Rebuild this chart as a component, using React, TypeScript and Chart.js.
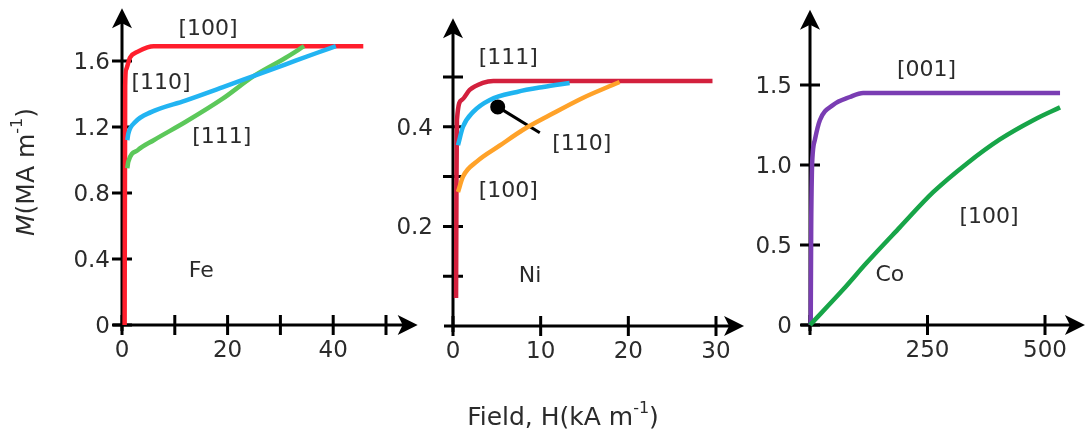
import React, { useEffect, useRef } from "react";
import { Chart, registerables } from "chart.js";

Chart.register(...registerables);

// ---------------- Fe panel data ----------------
const feH100 = [0.5, 0.6, 0.8, 1.5, 2.9, 4.8, 6.0, 45.7];
const feM100 = [0, 1.45, 1.55, 1.62, 1.655, 1.683, 1.69, 1.69];
const feH110 = [1.0, 1.2, 2.5, 5.5, 12, 19, 25, 31, 37, 40.5];
const feM110 = [1.12, 1.16, 1.23, 1.29, 1.36, 1.44, 1.51, 1.58, 1.65, 1.69];
const feH111 = [1.0, 1.2, 3, 6, 12, 19, 25, 31, 34.5];
const feM111 = [0.95, 0.99, 1.06, 1.12, 1.23, 1.37, 1.51, 1.62, 1.69];
const feXTicks = [0, 10, 20, 30, 40, 50];
const feXTickLabels = ["0", "", "20", "", "40", ""];
const feYTicks = [0, 0.4, 0.8, 1.2, 1.6];
const feYTickLabels = ["0", "0.4", "0.8", "1.2", "1.6"];

// ---------------- Ni panel data ----------------
const niH111 = [0.35, 0.4, 0.45, 1.0, 1.9, 3.4, 4.6, 29.6];
const niM111 = [0.056, 0.3, 0.414, 0.454, 0.474, 0.488, 0.492, 0.492];
const niH110 = [0.57, 1.14, 2.3, 4.2, 7.3, 10.3, 13.3];
const niM110 = [0.363, 0.4, 0.43, 0.454, 0.47, 0.48, 0.488];
const niH100 = [0.57, 1.14, 2.7, 5.4, 8.0, 11.1, 14.8, 18.2, 19.0];
const niM100 = [0.269, 0.3, 0.33, 0.363, 0.394, 0.424, 0.458, 0.484, 0.49];
const niPointerH = [5.1, 9.9];
const niPointerM = [0.44, 0.388];
const niXTicks = [0, 10, 20, 30];
const niXTickLabels = ["0", "10", "20", "30"];
const niYTicks = [0.1, 0.2, 0.3, 0.4, 0.5];
const niYTickLabels = ["", "0.2", "", "0.4", ""];

// ---------------- Co panel data ----------------
const coH001 = [1.5, 2.5, 4, 6, 10.6, 21, 49, 85, 113, 532];
const coM001 = [0, 0.6, 0.95, 1.08, 1.16, 1.28, 1.375, 1.425, 1.45, 1.45];
const coH100 = [0, 70, 121, 191, 262, 334, 404, 475, 532];
const coM100 = [0, 0.22, 0.39, 0.61, 0.83, 1.01, 1.16, 1.28, 1.36];
const coXTicks = [0, 250, 500];
const coXTickLabels = ["", "250", "500"];
const coYTicks = [0, 0.5, 1.0, 1.5];
const coYTickLabels = ["0", "0.5", "1.0", "1.5"];

// annotation texts
const feNotes = ["[100]", "[110]", "[111]", "Fe"];
const feNoteH = [16.3, 7.4, 18.9, 15.0];
const feNoteM = [1.79, 1.467, 1.139, 0.327];
const niNotes = ["[111]", "[110]", "[100]", "Ni"];
const niNoteH = [6.3, 14.7, 6.3, 8.8];
const niNoteM = [0.538, 0.365, 0.27, 0.1];
const coNotes = ["[001]", "[100]", "Co"];
const coNoteH = [248, 381, 170];
const coNoteM = [1.594, 0.675, 0.3125];

const FONT = '"DejaVu Sans", "Noto Sans", sans-serif';
const W = 1086;
const H = 435;

const pts = (xs: number[], ys: number[]) => xs.map((x, i) => ({ x, y: ys[i] }));

type Spec = {
  name: string;
  xMin: number; xMax: number; yMin: number; yMax: number;
  pad: { left: number; right: number; top: number; bottom: number };
  xTicks: number[]; xTickLabels: string[];
  yTicks: number[]; yTickLabels: string[];
  xArrow: number; yArrow: number;
  yLabelGap: number;
  notes: string[]; noteH: number[]; noteM: number[];
  datasets: any[];
  extra?: (chart: any) => void;
};

function arrowUp(ctx: CanvasRenderingContext2D, x: number, y: number) {
  ctx.beginPath();
  ctx.moveTo(x, y);
  ctx.lineTo(x - 10, y + 20);
  ctx.lineTo(x, y + 15);
  ctx.lineTo(x + 10, y + 20);
  ctx.closePath();
  ctx.fill();
}
function arrowRight(ctx: CanvasRenderingContext2D, x: number, y: number) {
  ctx.beginPath();
  ctx.moveTo(x, y);
  ctx.lineTo(x - 20, y - 10);
  ctx.lineTo(x - 15, y);
  ctx.lineTo(x - 20, y + 10);
  ctx.closePath();
  ctx.fill();
}

function makeDeco(spec: Spec) {
  return {
    id: "deco" + spec.name,
    beforeDatasetsDraw(chart: any) {
      const ctx: CanvasRenderingContext2D = chart.ctx;
      const xs = chart.scales.x;
      const ys = chart.scales.y;
      const x0 = xs.getPixelForValue(0);
      const y0 = ys.getPixelForValue(0);
      const yTop = ys.getPixelForValue(spec.yArrow);
      const xRight = xs.getPixelForValue(spec.xArrow);
      ctx.save();
      ctx.strokeStyle = "#000";
      ctx.fillStyle = "#000";
      ctx.lineWidth = 3;
      ctx.lineCap = "butt";
      ctx.beginPath();
      ctx.moveTo(x0, y0 + 6);
      ctx.lineTo(x0, yTop + 14);
      ctx.moveTo(x0 - 9, y0);
      ctx.lineTo(xRight - 14, y0);
      ctx.stroke();
      arrowUp(ctx, x0, yTop);
      arrowRight(ctx, xRight, y0);
      ctx.beginPath();
      spec.yTicks.forEach((v) => {
        const y = ys.getPixelForValue(v);
        ctx.moveTo(x0 - 10, y);
        ctx.lineTo(x0 + 10, y);
      });
      spec.xTicks.forEach((v) => {
        const x = xs.getPixelForValue(v);
        ctx.moveTo(x, y0 - 10);
        ctx.lineTo(x, y0 + 10);
      });
      ctx.stroke();
      // tick labels
      ctx.fillStyle = "#2b2b2b";
      ctx.font = `23px ${FONT}`;
      ctx.textAlign = "right";
      ctx.textBaseline = "middle";
      spec.yTicks.forEach((v, i) => {
        const lab = spec.yTickLabels[i];
        if (lab) ctx.fillText(lab, x0 - spec.yLabelGap, ys.getPixelForValue(v) + 2);
      });
      ctx.textAlign = "center";
      ctx.textBaseline = "top";
      spec.xTicks.forEach((v, i) => {
        const lab = spec.xTickLabels[i];
        if (lab) ctx.fillText(lab, xs.getPixelForValue(v), y0 + 15);
      });
      ctx.restore();
    },
    afterDatasetsDraw(chart: any) {
      const ctx: CanvasRenderingContext2D = chart.ctx;
      const xs = chart.scales.x;
      const ys = chart.scales.y;
      ctx.save();
      ctx.fillStyle = "#2b2b2b";
      ctx.font = `22px ${FONT}`;
      ctx.textAlign = "center";
      ctx.textBaseline = "middle";
      spec.notes.forEach((t, i) => {
        ctx.fillText(t, xs.getPixelForValue(spec.noteH[i]), ys.getPixelForValue(spec.noteM[i]));
      });
      ctx.restore();
      if (spec.extra) spec.extra(chart);
    },
  };
}

function drawParts(ctx: CanvasRenderingContext2D, parts: { t: string; f: string; dy: number }[]) {
  let total = 0;
  parts.forEach((p) => {
    ctx.font = p.f;
    total += ctx.measureText(p.t).width;
  });
  let x = -total / 2;
  parts.forEach((p) => {
    ctx.font = p.f;
    ctx.fillText(p.t, x, p.dy);
    x += ctx.measureText(p.t).width;
  });
}

function drawTitles(chart: any) {
  const ctx: CanvasRenderingContext2D = chart.ctx;
  ctx.save();
  ctx.fillStyle = "#2b2b2b";
  ctx.textAlign = "left";
  ctx.textBaseline = "middle";
  // y title
  ctx.save();
  ctx.translate(27, 172);
  ctx.rotate(-Math.PI / 2);
  drawParts(ctx, [
    { t: "M", f: `italic 25px ${FONT}`, dy: 0 },
    { t: "(MA m", f: `25px ${FONT}`, dy: 0 },
    { t: "-1", f: `16px ${FONT}`, dy: -9 },
    { t: ")", f: `25px ${FONT}`, dy: 0 },
  ]);
  ctx.restore();
  // x title
  ctx.save();
  ctx.translate(563, 418);
  drawParts(ctx, [
    { t: "Field, H(kA m", f: `25px ${FONT}`, dy: 0 },
    { t: "-1", f: `16px ${FONT}`, dy: -9 },
    { t: ")", f: `25px ${FONT}`, dy: 0 },
  ]);
  ctx.restore();
  ctx.restore();
}

const line = (data: any[], color: string, width = 4.5) => ({
  data,
  borderColor: color,
  backgroundColor: color,
  borderWidth: width,
  pointRadius: 0,
  showLine: true,
  fill: false,
  cubicInterpolationMode: "monotone",
  clip: false,
});

const specs: Spec[] = [
  {
    name: "Fe",
    xMin: 0, xMax: 50, yMin: 0, yMax: 1.8,
    pad: { left: 122, right: W - 386, top: 28, bottom: H - 325 },
    xTicks: feXTicks, xTickLabels: feXTickLabels,
    yTicks: feYTicks, yTickLabels: feYTickLabels,
    xArrow: 56, yArrow: 1.92, yLabelGap: 12,
    notes: feNotes, noteH: feNoteH, noteM: feNoteM,
    datasets: [
      line(pts(feH110, feM110), "#22b4f2"),
      line(pts(feH111, feM111), "#5cc85a"),
      line(pts(feH100, feM100), "#ff1e2d"),
    ],
    extra: drawTitles,
  },
  {
    name: "Ni",
    xMin: 0, xMax: 30, yMin: 0, yMax: 0.5,
    pad: { left: 453, right: W - 716, top: 77, bottom: H - 326 },
    xTicks: niXTicks, xTickLabels: niXTickLabels,
    yTicks: niYTicks, yTickLabels: niYTickLabels,
    xArrow: 33.2, yArrow: 0.618, yLabelGap: 20,
    notes: niNotes, noteH: niNoteH, noteM: niNoteM,
    datasets: [
      line(pts(niH100, niM100), "#ffa229"),
      line(pts(niH110, niM110), "#1fb4f0"),
      line(pts(niH111, niM111), "#d3203d"),
      {
        ...line(pts(niPointerH, niPointerM), "#000", 3),
        cubicInterpolationMode: "default",
        tension: 0,
        pointRadius: (c: any) => (c.dataIndex === 0 ? 6 : 0),
        pointBackgroundColor: "#000",
        pointBorderColor: "#000",
      },
    ],
  },
  {
    name: "Co",
    xMin: 0, xMax: 500, yMin: 0, yMax: 1.5,
    pad: { left: 810, right: W - 1045, top: 85, bottom: H - 325 },
    xTicks: coXTicks, xTickLabels: coXTickLabels,
    yTicks: coYTicks, yTickLabels: coYTickLabels,
    xArrow: 585, yArrow: 1.97, yLabelGap: 18,
    notes: coNotes, noteH: coNoteH, noteM: coNoteM,
    datasets: [
      line(pts(coH100, coM100), "#17a548"),
      line(pts(coH001, coM001), "#7a3db3"),
    ],
  },
];

export default function App() {
  const refs = [useRef<HTMLCanvasElement>(null), useRef<HTMLCanvasElement>(null), useRef<HTMLCanvasElement>(null)];
  useEffect(() => {
    const charts = specs.map((s, i) => {
      const cv = refs[i].current!;
      return new Chart(cv, {
        type: "scatter",
        data: { datasets: s.datasets },
        options: {
          responsive: false,
          animation: false,
          events: [],
          layout: { padding: s.pad },
          plugins: { legend: { display: false }, tooltip: { enabled: false } },
          scales: {
            x: { type: "linear", min: s.xMin, max: s.xMax, display: false },
            y: { type: "linear", min: s.yMin, max: s.yMax, display: false },
          },
        } as any,
        plugins: [makeDeco(s)],
      });
    });
    return () => charts.forEach((c) => c.destroy());
  }, []);
  return (
    <div style={{ position: "fixed", left: 0, top: 0, width: W, height: H, background: "#fff" }}>
      {refs.map((r, i) => (
        <canvas
          key={i}
          ref={r}
          width={W}
          height={H}
          style={{ position: "absolute", left: 0, top: 0, width: W, height: H }}
        />
      ))}
    </div>
  );
}
